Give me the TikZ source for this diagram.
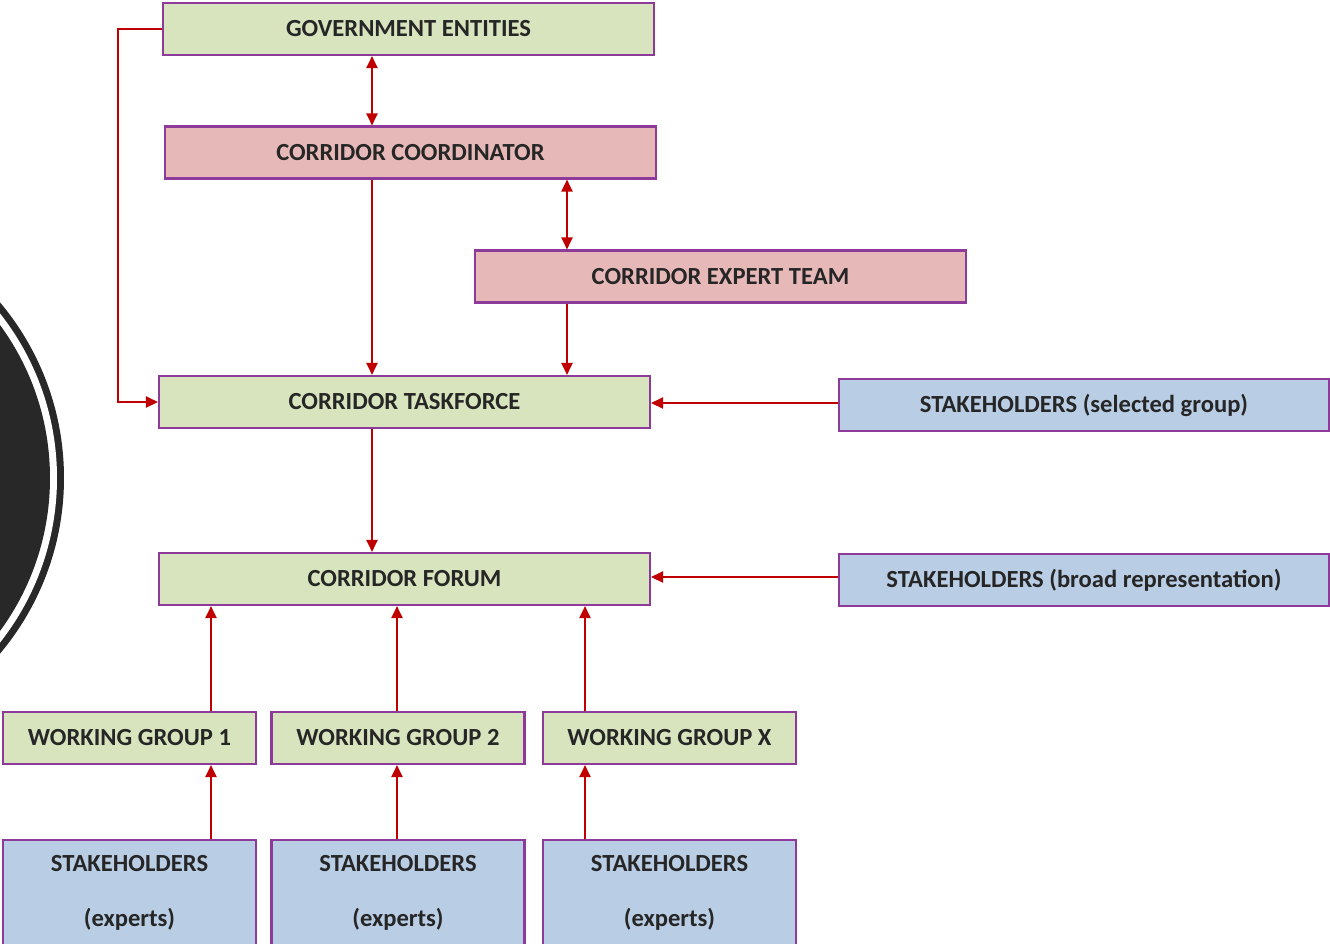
\documentclass[tikz,border=0pt]{standalone}
\usepackage{fontspec}
\setmainfont{Carlito}
\usetikzlibrary{arrows.meta}

\definecolor{boxgreen}{HTML}{D7E4BD}
\definecolor{boxpink}{HTML}{E6B9B8}
\definecolor{boxblue}{HTML}{B9CDE5}
\definecolor{boxline}{HTML}{8E3A9A}
\definecolor{arrowred}{HTML}{C00000}
\definecolor{disc}{HTML}{282828}

\tikzset{
	box/.style={draw=boxline, line width=1.2pt, minimum height=1.04cm, inner sep=0pt,
		font=\fontsize{14}{16}\selectfont\bfseries, text=black!85},
	wide/.style={box, minimum width=9.82cm},
	narrow/.style={box, minimum width=5.06cm},
	link/.style={draw=arrowred, line width=1.2pt, -{Triangle[length=2.4mm,width=2.2mm]}},
	twoway/.style={link, {Triangle[length=2.4mm,width=2.2mm]}-{Triangle[length=2.4mm,width=2.2mm]}}
}

\begin{document}
\begin{tikzpicture}[x=0.02cm,y=-0.02cm]
		\clip (0,0) rectangle (1330,944);
		\useasboundingbox (0,0) rectangle (1330,944);
		
		% disc on the left edge
		\fill[disc] (-209,478) circle (273);
		\fill[white] (-209,478) circle (266);
		\fill[disc] (-209,478) circle (259);
		
		\node[wide, fill=boxgreen] (gov) at (408.5,29) {GOVERNMENT ENTITIES};
		\node[wide, fill=boxpink] (coord) at (410.5,152.5) {CORRIDOR COORDINATOR};
		\node[wide, fill=boxpink] (expert) at (720.5,276.5) {CORRIDOR EXPERT TEAM};
		\node[wide, fill=boxgreen] (task) at (404.5,402) {CORRIDOR TASKFORCE};
		\node[wide, fill=boxblue] (selgrp) at (1084,405) {STAKEHOLDERS (selected group)};
		\node[wide, fill=boxgreen] (forum) at (404.5,579) {CORRIDOR FORUM};
		\node[wide, fill=boxblue] (broad) at (1084,580) {STAKEHOLDERS (broad representation)};
		
		\node[narrow, fill=boxgreen] (wg1) at (129.5,738) {WORKING GROUP 1};
		\node[narrow, fill=boxgreen] (wg2) at (398,738) {WORKING GROUP 2};
		\node[narrow, fill=boxgreen] (wgx) at (669.5,738) {WORKING GROUP X};
		
		\node[narrow, fill=boxblue, minimum height=2.12cm, align=center] (sh1) at (129.5,893) {STAKEHOLDERS\\[0.54cm](experts)};
		\node[narrow, fill=boxblue, minimum height=2.12cm, align=center] (sh2) at (398,893) {STAKEHOLDERS\\[0.54cm](experts)};
		\node[narrow, fill=boxblue, minimum height=2.12cm, align=center] (shx) at (669.5,893) {STAKEHOLDERS\\[0.54cm](experts)};
		
		% top part
		\draw[twoway] (372,0 |- gov.south) -- (372,0 |- coord.north);
		\draw[link] (372,0 |- coord.south) -- (372,0 |- task.north);
		\draw[twoway] (567,0 |- coord.south) -- (567,0 |- expert.north);
		\draw[link] (567,0 |- expert.south) -- (567,0 |- task.north);
		\draw[link] (gov.west) -- ++(-44,0) |- (task.west);
		\draw[link] (selgrp.west |- 0,403) -- (task.east |- 0,403);
		
		% lower part
		\draw[link] (372,0 |- task.south) -- (372,0 |- forum.north);
		\draw[link] (broad.west |- 0,577) -- (forum.east |- 0,577);
		\foreach \w/\s/\x in {wg1/sh1/211, wg2/sh2/397, wgx/shx/585} {
			\draw[link] (\x,0 |- \w.north) -- (\x,0 |- forum.south);
			\draw[link] (\x,0 |- \s.north) -- (\x,0 |- \w.south);
		}
	\end{tikzpicture}
\end{document}
